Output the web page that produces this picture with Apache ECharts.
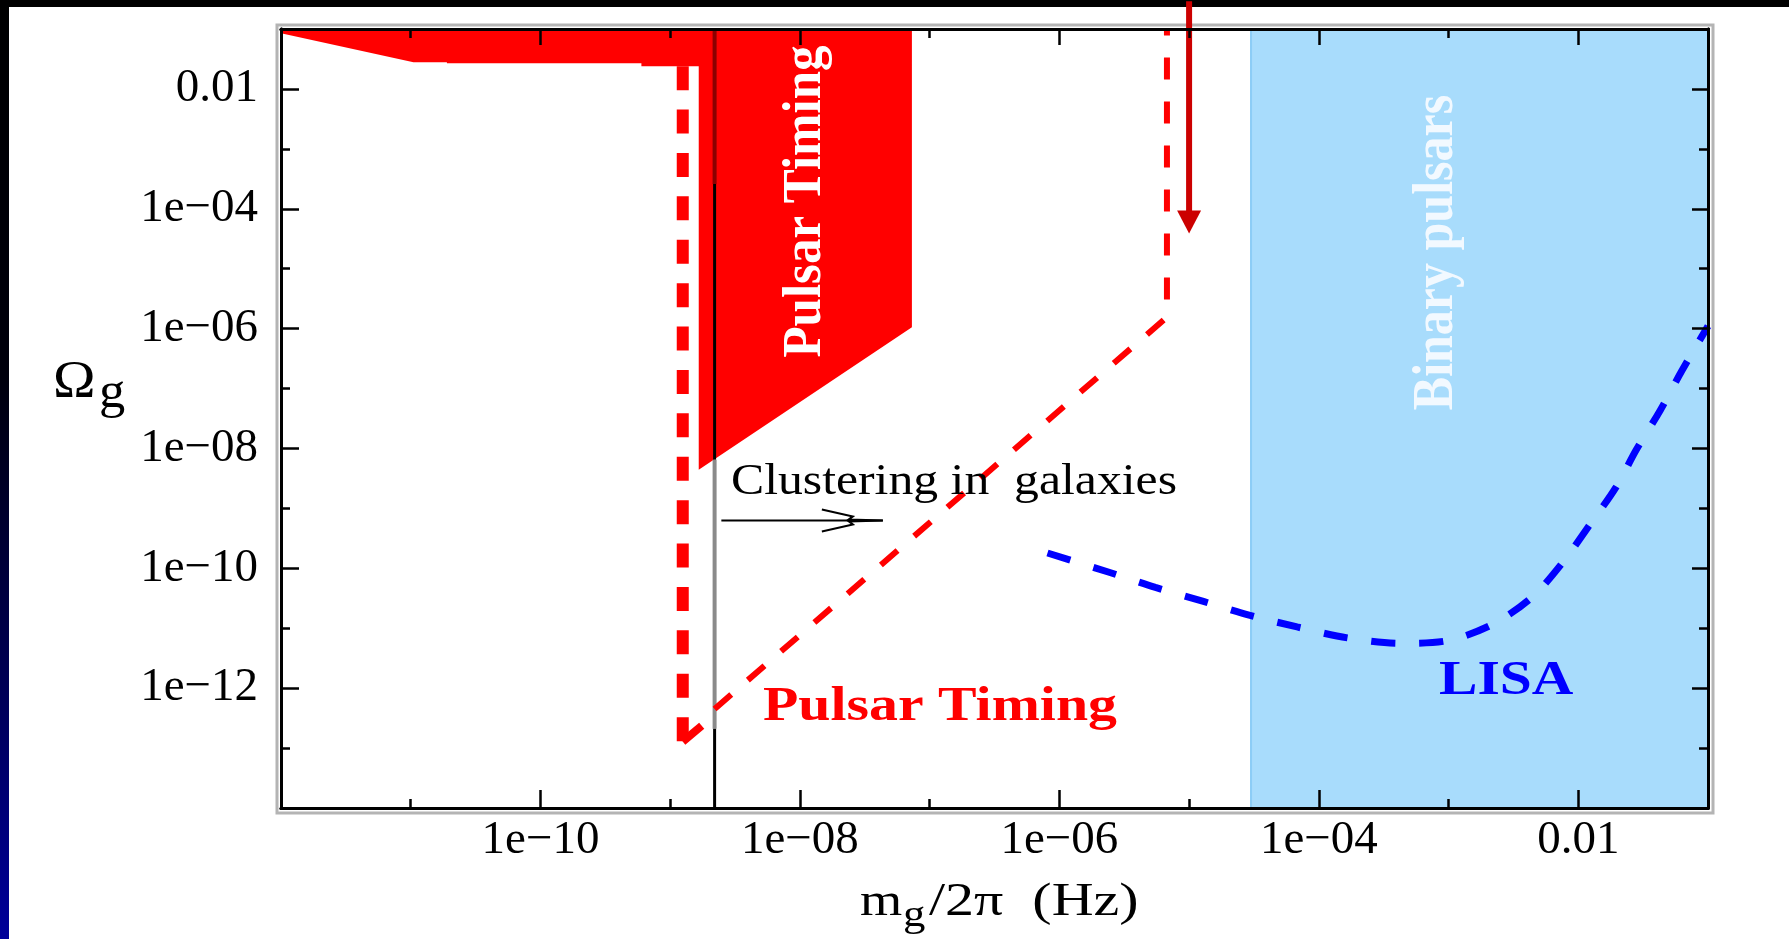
<!DOCTYPE html>
<html><head><meta charset="utf-8">
<script src="https://cdn.jsdelivr.net/npm/echarts@6/dist/echarts.min.js"></script>
<style>html,body{margin:0;padding:0;background:#fff}#c{width:1789px;height:939px}</style>
</head><body><div id="c"></div>
<script>
// ---- axis ranges / tick labels ----
const xRange = [1e-12, 0.1];          // m_g / 2π (Hz)
const yRange = [1e-14, 0.1];          // Ω_g
const tickLabelExamples = ['1e\u221210', '1e\u221208', '1e\u221206', '1e\u221204', '0.01'];

// ---- excluded region (pulsar timing, solid red) ----
const excludedX = [1e-12, 1e-12, 1.05e-11, 1.9e-11, 1.9e-11, 6.0e-10, 6.0e-10, 1.66e-9, 1.66e-9, 7.3e-8, 7.3e-8];
const excludedY = [0.1, 0.085, 0.028, 0.028, 0.0269, 0.0269, 0.024, 0.024, 4.4e-9, 1.05e-6, 0.1];

// ---- binary pulsars band ----
const binaryX = [2.95e-5, 0.1];
const binaryY = [1e-14, 0.1];

// ---- pulsar timing thick dashed bound ----
const ptThickX = [1.25e-9, 1.25e-9];
const ptThickY = [0.024, 1.28e-13];
const ptStubX = [1.25e-9, 1.75e-9];
const ptStubY = [1.28e-13, 2.36e-13];

// ---- pulsar timing thin dashed bound ----
const ptThinX = [2.2e-9, 6.75e-6, 6.75e-6];
const ptThinY = [4.5e-13, 1.55e-6, 0.1];

// ---- LISA sensitivity (blue dashed) ----
const lisaX = [8.1e-7, 2.45e-6, 5.5e-6, 1.29e-5, 2.9e-5, 6.8e-5, 1.66e-4, 4.2e-4, 9.8e-4, 2.2e-3, 4.4e-3, 7.6e-3, 1.2e-2, 1.95e-2, 2.8e-2, 4.3e-2, 6.3e-2, 0.1];
const lisaY = [1.8e-10, 8.5e-11, 4.8e-11, 2.8e-11, 1.66e-11, 1.05e-11, 6.9e-12, 5.6e-12, 6.2e-12, 1.17e-11, 3.3e-11, 1.26e-10, 5.0e-10, 2.24e-9, 9.5e-9, 4.4e-8, 2.0e-7, 1.1e-6];

// ---- clustering-in-galaxies vertical line and arrow ----
const clusterLineX = 2.2e-9;
const clusterLineBreaksY = [0.1, 2.6e-4, 6.5e-9, 2.1e-13, 1e-14];
const clusterArrowX = [2.48e-9, 4.36e-8];
const clusterArrowY = [6.3e-10, 6.3e-10];

// ---- dark red limit arrow ----
const limitArrowX = [1.0e-5, 1.0e-5];
const limitArrowY = [0.29, 3.85e-5];

const SERIF = '"Liberation Serif","Times New Roman",serif';
const zip = (xs, ys) => xs.map((x, i) => [x, ys[i]]);

function fmt(v) {
  const e = Math.round(Math.log10(v));
  if (e === -2) return '0.01';
  if (e >= -1) return '';
  return '1e\u2212' + String(-e).padStart(2, '0');
}

function xAx(o) {
  return Object.assign({
    type: 'log', logBase: 10, min: xRange[0], max: xRange[1], gridIndex: 0, z: 10,
    axisLine: {onZero: false, lineStyle: {color: '#000', width: 3}},
    splitLine: {show: false}, minorTick: {show: false}, axisLabel: {show: false}
  }, o);
}
function yAx(o) {
  return Object.assign({
    type: 'log', logBase: 10, min: yRange[0], max: yRange[1], gridIndex: 0, z: 10,
    axisLine: {onZero: false, lineStyle: {color: '#000', width: 3}},
    splitLine: {show: false}, minorTick: {show: false}, axisLabel: {show: false}
  }, o);
}
const tickStyle = {color: '#000', width: 2.5};
const labelStyle = {show: true, formatter: fmt, showMinLabel: false, showMaxLabel: false,
  fontFamily: SERIF, fontSize: 47, color: '#000'};

function txt(text, x, y, o) {
  return {
    type: 'text', x: x, y: y, z: 100,
    rotation: o.rotation || 0, scaleX: o.scaleX || 1, scaleY: o.scaleY || 1,
    style: {text: text, fill: o.fill || '#000', fontFamily: SERIF, fontSize: o.fontSize,
      fontWeight: o.fontWeight || 'normal', fontStyle: o.fontStyle || 'normal',
      align: o.align || 'left', verticalAlign: 'middle',
      textAlign: o.align || 'left', textVerticalAlign: 'middle'}
  };
}

const chart = echarts.init(document.getElementById('c'), null, {renderer: 'canvas'});
chart.setOption({
  backgroundColor: '#fff',
  animation: false,
  grid: [{left: 281, right: 81, top: 29, bottom: 131, show: false}],
  xAxis: [
    xAx({position: 'bottom', interval: 2, axisTick: {inside: true, length: 18, lineStyle: tickStyle},
         axisLabel: Object.assign({margin: 9}, labelStyle)}),
    xAx({position: 'bottom', interval: 1, axisTick: {inside: true, length: 9, lineStyle: tickStyle}}),
    xAx({position: 'top', interval: 2, axisTick: {inside: true, length: 16, lineStyle: tickStyle}}),
    xAx({position: 'top', interval: 1, axisTick: {inside: true, length: 9, lineStyle: tickStyle}})
  ],
  yAxis: [
    yAx({position: 'left', interval: 2, axisTick: {inside: true, length: 18, lineStyle: tickStyle},
         axisLabel: Object.assign({margin: 23}, labelStyle)}),
    yAx({position: 'left', interval: 1, axisTick: {inside: true, length: 9, lineStyle: tickStyle}}),
    yAx({position: 'right', interval: 2, axisTick: {inside: true, length: 16, lineStyle: tickStyle}}),
    yAx({position: 'right', interval: 1, axisTick: {inside: true, length: 9, lineStyle: tickStyle}})
  ],
  graphic: [
    {type: 'rect', z: 0, shape: {x: 0, y: 0, width: 1789, height: 7}, style: {fill: '#000'}},
    {type: 'rect', z: 0, shape: {x: 0, y: 0, width: 9, height: 939}, style: {fill: {type: 'linear', x: 0, y: 0, x2: 0, y2: 1,
      colorStops: [{offset: 0, color: '#000000'}, {offset: 0.4, color: '#00000c'}, {offset: 0.75, color: '#00005a'}, {offset: 1, color: '#00009a'}]}}},
    {type: 'rect', z: 0, shape: {x: 277, y: 25, width: 1436, height: 788}, style: {fill: 'none', stroke: '#b4b4b4', lineWidth: 3}},
    txt('Pulsar Timing', 806, 201.5, {fontSize: 51, fontWeight: 'bold', fill: '#ffffff', rotation: Math.PI / 2, align: 'center', scaleY: 1.08}),
    txt('Binary pulsars', 1437, 252.5, {fontSize: 50, fontWeight: 'bold', fill: '#f2f9ff', rotation: Math.PI / 2, align: 'center', scaleY: 1.15}),
    txt('Clustering in  galaxies', 731, 482, {fontSize: 44, scaleX: 1.13}),
    txt('Pulsar Timing', 763, 707, {fontSize: 49, fontWeight: 'bold', fill: '#ff0000', scaleX: 1.18}),
    txt('LISA', 1439, 682, {fontSize: 48, fontWeight: 'bold', fill: '#0000ff', scaleX: 1.2}),
    txt('m', 860, 903, {fontSize: 46, scaleX: 1.18}),
    txt('g', 903, 916, {fontSize: 38, scaleX: 1.18}),
    txt('/2\u03c0  (Hz)', 929, 903, {fontSize: 46, scaleX: 1.26}),
    txt('\u03a9', 53, 383, {fontSize: 53, scaleX: 1.08}),
    txt('g', 99, 394, {fontSize: 50, scaleX: 1.05})
  ],
  series: [
    {type: 'custom', name: 'Binary pulsars', z: 1, clip: false, data: [[binaryX[0], binaryY[0]]],
     renderItem: (p, api) => {
       const a = api.coord([binaryX[0], binaryY[0]]), b = api.coord([binaryX[1], binaryY[1]]);
       return {type: 'group', children: [
         {type: 'rect', shape: {x: a[0], y: b[1], width: b[0] - a[0], height: a[1] - b[1]}, style: {fill: '#a8dcfc'}},
         {type: 'line', shape: {x1: a[0] + 1, y1: b[1], x2: a[0] + 1, y2: a[1]}, style: {stroke: '#8ccdf6', lineWidth: 2}}
       ]};
     }},
    {type: 'custom', name: 'Pulsar Timing excluded', z: 2, data: [[excludedX[0], excludedY[0]]],
     renderItem: (p, api) => ({type: 'polygon', shape: {points: excludedX.map((x, i) => api.coord([x, excludedY[i]]))}, style: {fill: '#ff0000'}})},
    {type: 'custom', name: 'Clustering line', z: 3, data: [[clusterLineX, clusterLineBreaksY[0]]],
     renderItem: (p, api) => {
       const cols = ['#8b0000', '#000000', '#8a8a8a', '#000000'];
       const widths = [4, 3, 4, 3];
       const kids = [];
       for (let i = 0; i < clusterLineBreaksY.length - 1; i++) {
         const a = api.coord([clusterLineX, clusterLineBreaksY[i]]), b = api.coord([clusterLineX, clusterLineBreaksY[i + 1]]);
         kids.push({type: 'line', shape: {x1: a[0], y1: a[1], x2: b[0], y2: b[1]}, style: {stroke: cols[i], lineWidth: widths[i]}});
       }
       return {type: 'group', children: kids};
     }},
    {type: 'line', name: 'PT thick', z: 4, showSymbol: false, symbol: 'none', data: zip(ptThickX, ptThickY),
     lineStyle: {color: '#ff0000', width: 12, type: [24, 19.4], cap: 'butt'}},
    {type: 'line', name: 'PT stub', z: 4, showSymbol: false, symbol: 'none', data: zip(ptStubX, ptStubY),
     lineStyle: {color: '#ff0000', width: 8}},
    {type: 'line', name: 'PT thin', z: 4, showSymbol: false, symbol: 'none', data: zip(ptThinX, ptThinY),
     lineStyle: {color: '#ff0000', width: 6, type: [22, 22], cap: 'butt'}},
    {type: 'line', name: 'LISA', z: 4, showSymbol: false, symbol: 'none', smooth: 0.3, data: zip(lisaX, lisaY),
     lineStyle: {color: '#0000ff', width: 7, type: [24, 24], cap: 'butt'}},
    {type: 'custom', name: 'Clustering arrow', z: 5, data: [[clusterArrowX[0], clusterArrowY[0]]],
     renderItem: (p, api) => {
       const a = api.coord([clusterArrowX[0], clusterArrowY[0]]), b = api.coord([clusterArrowX[1], clusterArrowY[1]]);
       return {type: 'group', children: [
         {type: 'line', shape: {x1: a[0], y1: a[1], x2: b[0], y2: b[1]}, style: {stroke: '#000', lineWidth: 2}},
         {type: 'polyline', shape: {points: [[b[0] - 61, b[1] - 11], [b[0] - 30, b[1] - 4], [b[0] - 34, b[1] - 1], [b[0], b[1]], [b[0] - 34, b[1] + 1], [b[0] - 30, b[1] + 4], [b[0] - 61, b[1] + 11]]},
          style: {stroke: '#000', lineWidth: 2, fill: 'none'}}
       ]};
     }},
    {type: 'custom', name: 'Limit arrow', z: 6, clip: false, data: [[limitArrowX[1], limitArrowY[1]]],
     renderItem: (p, api) => {
       const a = api.coord([limitArrowX[0], limitArrowY[0]]), b = api.coord([limitArrowX[1], limitArrowY[1]]);
       return {type: 'group', children: [
         {type: 'line', shape: {x1: a[0], y1: a[1], x2: b[0], y2: b[1] - 20}, style: {stroke: '#cc0000', lineWidth: 6}},
         {type: 'polygon', shape: {points: [[b[0] - 12, b[1] - 23], [b[0] + 12, b[1] - 23], [b[0], b[1]]]}, style: {fill: '#cc0000'}}
       ]};
     }}
  ]
});
</script></body></html>
